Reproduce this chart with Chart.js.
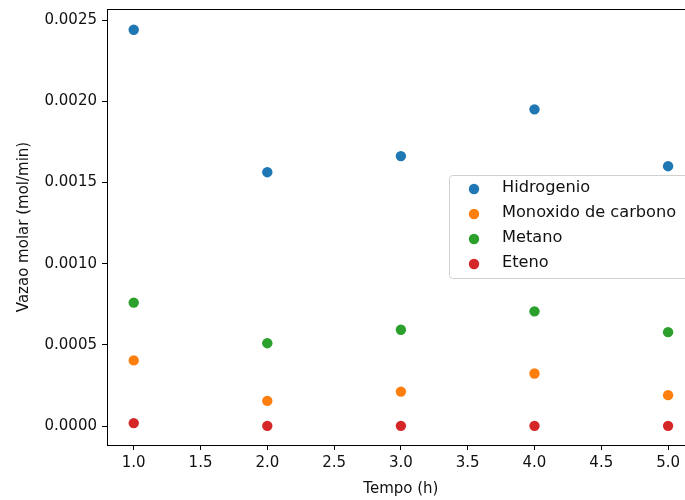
<!DOCTYPE html>
<html>
<head>
<meta charset="utf-8">
<script src="https://cdn.jsdelivr.net/npm/chart.js@4/dist/chart.umd.min.js"></script>
<style>
  html, body { margin: 0; padding: 0; background: #fff; overflow: hidden; }
  #wrap { width: 700px; height: 500px; }
</style>
</head>
<body>
<div id="wrap"><canvas id="myChart" width="700" height="500"></canvas></div>
<script>
// tempo (h)
var tempo = [1, 2, 3, 4, 5];
// vazao molar (mol/min)
var hidrogenio = [0.002440, 0.001563, 0.001662, 0.001950, 0.001600];
var monoxido = [0.000404, 0.000155, 0.000212, 0.000323, 0.000190];
var metano = [0.000760, 0.000510, 0.000593, 0.000706, 0.000578];
var eteno = [0.000018, 0.000001, 0.000001, 0.000001, 0.000001];

var seriesNames = ["Hidrogenio", "Monoxido de carbono", "Metano", "Eteno"];
var seriesColors = ["#1f77b4", "#ff7f0e", "#2ca02c", "#d62728"];
var seriesValues = [hidrogenio, monoxido, metano, eteno];

var FONT = "'DejaVu Sans', sans-serif";
var FSIZE = 15;

var toPoints = function(vals) {
  return vals.map(function(v, i) {
    return { x: tempo[i], y: v };
  });
};

var datasets = seriesNames.map(function(name, i) {
  return {
    label: name,
    data: toPoints(seriesValues[i]),
    backgroundColor: seriesColors[i],
    borderColor: seriesColors[i],
    borderWidth: 0,
    pointRadius: 5.2,
    pointHoverRadius: 5.2
  };
});

// matplotlib-like box around the axes
var frame = {
  id: 'frame',
  afterDatasetsDraw: function(chart) {
    var a = chart.chartArea, ctx = chart.ctx;
    ctx.save();
    ctx.strokeStyle = '#000';
    ctx.lineWidth = 1;
    ctx.strokeRect(Math.round(a.left) + 0.5, Math.round(a.top) + 0.5,
      Math.round(a.right - a.left), Math.round(a.bottom - a.top));
    ctx.restore();
  }
};

// legend box at center right
var boxLegend = {
  id: 'boxLegend',
  afterDraw: function(chart) {
    var ctx = chart.ctx;
    var x0 = 449, y0 = 175, w = 244, h = 103;
    ctx.save();
    ctx.fillStyle = 'rgba(255,255,255,0.8)';
    ctx.strokeStyle = '#d0d0d0';
    ctx.lineWidth = 1;
    ctx.beginPath();
    ctx.roundRect(x0 + 0.5, y0 + 0.5, w, h, 3);
    ctx.fill();
    ctx.stroke();
    ctx.font = "16.2px " + FONT;
    ctx.textBaseline = 'middle';
    chart.data.datasets.forEach(function(ds, i) {
      var cy = y0 + 13 + i * 25;
      ctx.fillStyle = ds.backgroundColor;
      ctx.beginPath();
      ctx.arc(474, cy + 1, 5.2, 0, Math.PI * 2);
      ctx.fill();
      ctx.fillStyle = '#111';
      ctx.fillText(ds.label, 502, cy);
    });
    ctx.restore();
  }
};

var ctx = document.getElementById('myChart').getContext('2d');
var chart = new Chart(ctx, {
  type: 'scatter',
  data: { datasets: datasets },
  options: {
    responsive: false,
    animation: false,
    layout: { padding: { top: 9, right: 5, left: 0, bottom: 0 } },
    plugins: {
      legend: { display: false },
      tooltip: { enabled: false }
    },
    scales: {
      x: {
        type: 'linear',
        min: 0.8,
        max: 5.2,
        afterFit: function(s) { s.height = 55; s.paddingLeft = 0; s.paddingRight = 0; },
        grid: { drawOnChartArea: false, drawTicks: true, tickLength: 5, tickColor: '#000' },
        border: { display: true, color: '#000' },
        ticks: {
          stepSize: 0.5,
          includeBounds: false,
          color: '#111',
          padding: 4,
          font: { family: FONT, size: FSIZE },
          callback: function(v) { return v.toFixed(1); }
        },
        title: {
          display: true,
          text: 'Tempo (h)',
          color: '#111',
          font: { family: FONT, size: FSIZE },
          padding: { top: 0, bottom: 2 }
        }
      },
      y: {
        type: 'linear',
        min: -0.000117,
        max: 0.002568,
        afterFit: function(s) { s.width = 107; s.paddingTop = 0; s.paddingBottom = 0; },
        grid: { drawOnChartArea: false, drawTicks: true, tickLength: 5, tickColor: '#000' },
        border: { display: true, color: '#000' },
        ticks: {
          stepSize: 0.0005,
          includeBounds: false,
          color: '#111',
          padding: 5,
          font: { family: FONT, size: FSIZE },
          callback: function(v) { return v.toFixed(4); }
        },
        title: {
          display: true,
          text: 'Vazao molar (mol/min)',
          color: '#111',
          font: { family: FONT, size: FSIZE },
          padding: { top: 15, bottom: 0 }
        }
      }
    }
  },
  plugins: [frame, boxLegend]
});
</script>
</body>
</html>
